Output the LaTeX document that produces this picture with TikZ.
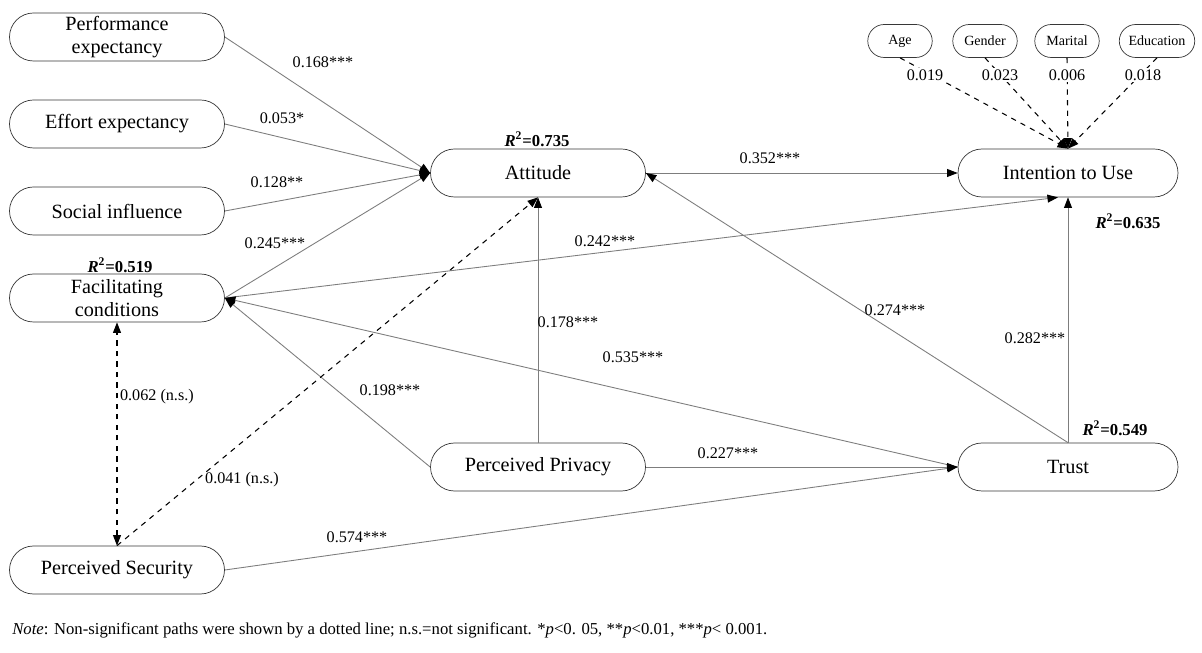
\documentclass[tikz,border=0pt]{standalone}
\usepackage{fontspec}
\setmainfont{Liberation Serif}
\usetikzlibrary{arrows.meta, shapes.misc, calc}
\definecolor{linegray}{RGB}{125,125,125}
\definecolor{boxline}{RGB}{55,55,55}

\begin{document}
\begin{tikzpicture}[
    construct/.style={draw=boxline, rounded rectangle, minimum width=4.3cm, minimum height=0.96cm,
      align=center, inner sep=0pt, font=\fontsize{11.5}{13.5}\selectfont},
    control/.style={draw=boxline, rounded rectangle, minimum height=0.66cm, inner xsep=3pt,
      font=\fontsize{8}{9}\selectfont},
    effect/.style={draw=linegray, line width=0.5pt, -{Triangle[length=6pt,width=4.5pt,color=black]}},
    nseffect/.style={draw=black, line width=0.6pt, dashed, -{Triangle[length=6pt,width=4.5pt,color=black]}},
    coef/.style={font=\fontsize{9.2}{10}\selectfont},
    rsq/.style={font=\fontsize{9.5}{10}\selectfont\bfseries}
  ]
  \useasboundingbox (0,0) rectangle (24.04,-13.06);

  % Constructs
  \node[construct] (pe) at (2.34,-0.74) {Performance\\expectancy};
  \node[construct] (ee) at (2.34,-2.48) {Effort expectancy};
  \node[construct] (si) at (2.34,-4.22) {Social influence};
  \node[construct] (fc) at (2.34,-5.96) {Facilitating\\conditions};
  \node[construct] (ps) at (2.34,-11.40) {Perceived Security};
  \node[construct] (att) at (10.76,-3.46) {Attitude};
  \node[construct] (pp) at (10.76,-9.34) {Perceived Privacy};
  \node[construct, minimum width=4.4cm] (itu) at (21.36,-3.46) {Intention to Use};
  \node[construct, minimum width=4.4cm] (trust) at (21.36,-9.34) {Trust};

  % Controls
  \node[control, minimum width=1.5cm] (age) at (18.00,-0.82) {Age};
  \node[control, minimum width=1.5cm] (gender) at (19.70,-0.82) {Gender};
  \node[control, minimum width=1.5cm] (marital) at (21.34,-0.82) {Marital};
  \node[control, minimum width=1.72cm] (edu) at (23.14,-0.82) {Education};

  % R squared
  \node[rsq] (r2fc) at (2.40,-5.30) {\textit{R}\textsuperscript{2}=0.519};
  \node[rsq] (r2att) at (10.74,-2.78) {\textit{R}\textsuperscript{2}=0.735};
  \node[rsq] (r2itu) at (22.56,-4.42) {\textit{R}\textsuperscript{2}=0.635};
  \node[rsq] (r2trust) at (22.30,-8.56) {\textit{R}\textsuperscript{2}=0.549};

  % Paths
  \draw[effect] (pe.east) -- (att.west);
  \draw[effect] (ee.east) -- (att.west);
  \draw[effect] (si.east) -- (att.west);
  \draw[effect] (fc.east) -- (att.west);
  \draw[effect] (att.east) -- (itu.west);
  \draw[effect] (fc.east) -- ($(itu.south)+(-0.2,0)$);
  \draw[effect] (pp.north) -- (att.south);
  \draw[effect] (pp.west) -- (fc.east);
  \draw[effect] (trust.west) -- (fc.east);
  \draw[effect] (pp.east) -- (trust.west);
  \draw[effect] (ps.east) -- (trust.west);
  \draw[effect] (trust.north) -- (att.east);
  \draw[effect] (trust.north) -- (itu.south);
  \draw[nseffect, {Triangle[length=6pt,width=4.5pt]}-{Triangle[length=6pt,width=4.5pt]}] (ps.north) -- (fc.south);
  \draw[nseffect] (ps.north) -- (att.south);
  \foreach \c in {age, gender, marital, edu}{
    \draw[nseffect] (\c.south) -- (itu.north);
  }

  % Coefficients
  \node[coef] at (6.46,-1.24) {0.168***};
  \node[coef] at (5.64,-2.36) {0.053*};
  \node[coef] at (5.54,-3.64) {0.128**};
  \node[coef] at (5.50,-4.86) {0.245***};
  \node[coef] at (15.40,-3.16) {0.352***};
  \node[coef] at (12.10,-4.82) {0.242***};
  \node[coef] at (11.36,-6.44) {0.178***};
  \node[coef] at (17.90,-6.20) {0.274***};
  \node[coef] at (20.70,-6.76) {0.282***};
  \node[coef] at (12.66,-7.14) {0.535***};
  \node[coef] at (7.80,-7.80) {0.198***};
  \node[coef, anchor=west, inner xsep=1pt] at (2.36,-7.94) {0.062 (n.s.)};
  \node[coef] at (4.84,-9.60) {0.041 (n.s.)};
  \node[coef] at (14.56,-9.06) {0.227***};
  \node[coef] at (7.14,-10.74) {0.574***};
  \node[coef, fill=white, inner sep=1pt] at (18.50,-1.50) {0.019};
  \node[coef, fill=white, inner sep=1pt] at (20.00,-1.50) {0.023};
  \node[coef, fill=white, inner sep=1pt] at (21.34,-1.50) {0.006};
  \node[coef, fill=white, inner sep=1pt] at (22.86,-1.50) {0.018};

  % Note
  \node[anchor=west, inner sep=0pt, font=\fontsize{9.5}{11}\selectfont] (note) at (0.24,-12.60)
    {\textit{Note}: Non-significant paths were shown by a dotted line; n.s.=not significant. *\textit{p}<0. 05, **\textit{p}<0.01, ***\textit{p}< 0.001.};
\end{tikzpicture}
\end{document}
